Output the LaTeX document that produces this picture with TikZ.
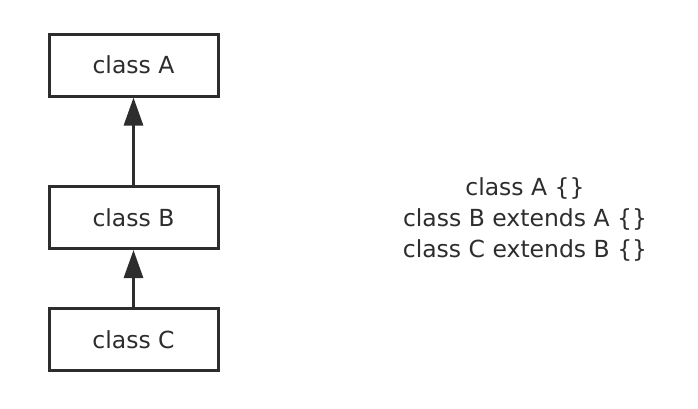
\documentclass[tikz,border=0pt]{standalone}
\usepackage{fontspec}
\setmainfont{DejaVu Sans}
\usepackage{tikz}
\usetikzlibrary{arrows.meta,positioning}
\definecolor{inkgray}{RGB}{45,45,45}

\begin{document}
\begin{tikzpicture}[
    x=1pt, y=-1pt,
    classbox/.style={draw=inkgray, line width=3pt, minimum width=169pt,
                minimum height=62pt, font=\fontsize{23.5}{28}\selectfont, text=inkgray},
    inherit/.style={-{Triangle[length=28pt, width=19pt]}, line width=3pt, draw=inkgray},
]
    \useasboundingbox (0,0) rectangle (698,408);
    \node[classbox] (clsA) at (133.5,65)    {class A};
    \node[classbox] (clsB) at (133.5,217.5) {class B};
    \node[classbox] (clsC) at (133.5,339.5) {class C};

    \draw[inherit] (clsB) -- (clsA);
    \draw[inherit] (clsC) -- (clsB);

    \node[align=center, text=inkgray, font=\fontsize{23.5}{31}\selectfont] (code) at (525,219)
        {class A \{\}\\class B extends A \{\}\\class C extends B \{\}};
\end{tikzpicture}
\end{document}
